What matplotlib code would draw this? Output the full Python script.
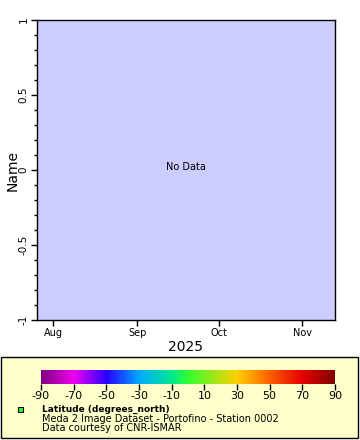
"""
plot.py
Empty ERDDAP-style time series panel ("No Data") with colour bar legend.
"""
import numpy as np
import matplotlib
matplotlib.use('Agg')
import matplotlib.pyplot as plt
import matplotlib.dates as mdates
from matplotlib.colors import LinearSegmentedColormap, Normalize
from matplotlib.patches import Rectangle
from matplotlib.colorbar import ColorbarBase

# Axis ranges / ticks
x_start = np.datetime64('2025-07-26')
x_end = np.datetime64('2025-11-13')
month_ticks = ['2025-08-01', '2025-09-01', '2025-10-01', '2025-11-01']
month_labels = ['Aug', 'Sep', 'Oct', 'Nov']
y_ticks = [-1, -0.5, 0, 0.5, 1]
y_labels = ['-1', '-0.5', '0', '0.5', '1']

# Colour bar
cbar_min, cbar_max = -90, 90
cbar_ticks = [-90, -70, -50, -30, -10, 10, 30, 50, 70, 90]
cbar_stops = [-90, -70, -50, -30, -10, 0, 30, 50, 70, 90]
cbar_colors = ['#800080', '#f000f0', '#2800ff', '#00a8ff', '#00e890',
               '#30ff30', '#ffd000', '#ff6000', '#e80000', '#800000']

# Legend text
var_title = 'Latitude (degrees_north)'
dataset_line = 'Meda 2 Image Dataset - Portofino - Station 0002'
credit_line = 'Data courtesy of CNR-ISMAR'

W, H = 360, 440
plt.rcParams['font.family'] = 'DejaVu Sans'
plt.rcParams['axes.unicode_minus'] = False
fig = plt.figure(figsize=(W / 100, H / 100), dpi=100)


def px(x0, y0, x1, y1):
    """pixel box (top-left origin) -> figure fraction rect"""
    return [x0 / W, 1 - y1 / H, (x1 - x0) / W, (y1 - y0) / H]


# main axes
ax = fig.add_axes(px(37, 20, 335, 320))
ax.set_facecolor('#ccccff')
ax.set_xlim(mdates.date2num(x_start), mdates.date2num(x_end))
ax.set_ylim(-1, 1)
ax.set_xticks([mdates.date2num(np.datetime64(d)) for d in month_ticks])
ax.set_xticklabels(month_labels, fontsize=7)
ax.set_yticks(y_ticks)
ax.set_yticklabels(y_labels, fontsize=7.5, rotation=90, va='center')
ax.set_yticks(np.arange(-1, 1.01, 0.1), minor=True)
ax.tick_params(axis='both', direction='out', length=4, width=1, pad=2)
ax.tick_params(axis='y', which='minor', length=2, width=1)
for s in ax.spines.values():
    s.set_linewidth(1)
ax.set_xlabel('2025', fontsize=10, labelpad=1)
ax.set_ylabel('Name', fontsize=10, labelpad=-1)
ax.text(0.5, 0.51, 'No Data', transform=ax.transAxes, ha='center',
        va='center', fontsize=7)

# legend box (behind the colour bar)
fig.patches.append(Rectangle((1 / W, 1 - 438 / H), 357 / W, 81 / H,
                             transform=fig.transFigure, facecolor='#ffffcc',
                             edgecolor='black', linewidth=1, zorder=-1))

# colour bar
cmap = LinearSegmentedColormap.from_list(
    'rainbow2',
    [((v - cbar_min) / (cbar_max - cbar_min), c)
     for v, c in zip(cbar_stops, cbar_colors)])
cax = fig.add_axes(px(41, 370, 335, 384))
cax.set_zorder(2)
cb = ColorbarBase(cax, cmap=cmap, norm=Normalize(cbar_min, cbar_max),
                  orientation='horizontal', ticks=cbar_ticks)
cb.outline.set_visible(False)
cax.tick_params(labelsize=8, length=4, width=1, pad=1)

# legend entry
fig.patches.append(Rectangle((18 / W, 1 - 412 / H), 5 / W, 5 / H,
                             transform=fig.transFigure, facecolor='#33ff33',
                             edgecolor='black', linewidth=0.8))
fig.text(42 / W, 1 - 409 / H, var_title, fontsize=6.5, fontweight='bold',
         va='center')
fig.text(42 / W, 1 - 419 / H, dataset_line, fontsize=7, va='center')
fig.text(42 / W, 1 - 428 / H, credit_line, fontsize=7, va='center')

fig.savefig('out.png', dpi=100)
